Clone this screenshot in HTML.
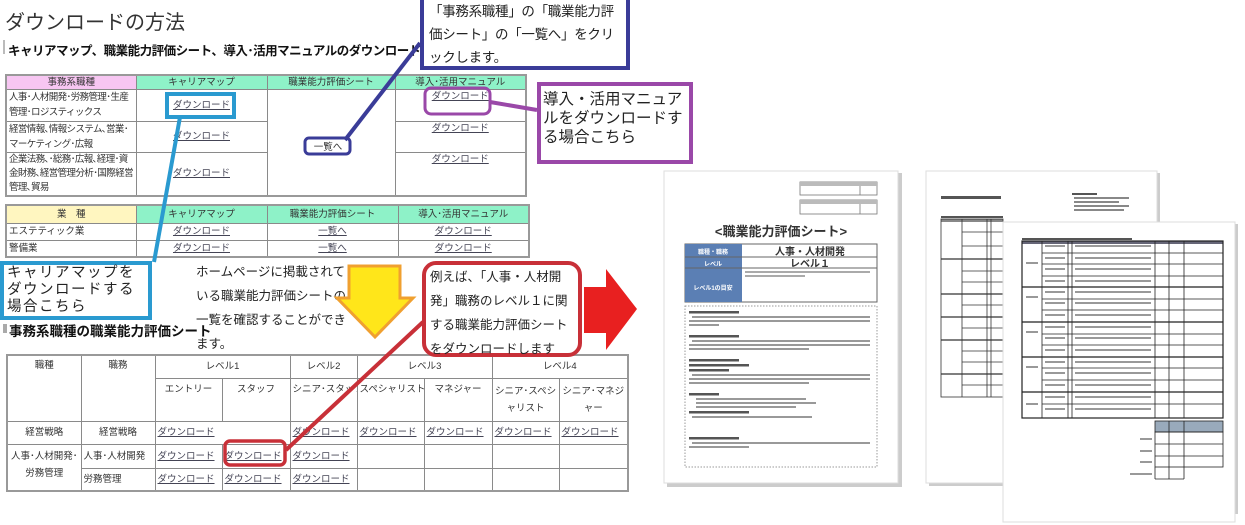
<!DOCTYPE html>
<html><head><meta charset="utf-8">
<style>
*{margin:0;padding:0;box-sizing:border-box}
body{width:1245px;height:525px;background:#fff;position:relative;overflow:hidden;font-family:"Liberation Sans","Noto Sans CJK JP",sans-serif;color:#222}
.a{position:absolute}
table{border-collapse:collapse;table-layout:fixed;position:absolute;font-size:9.5px;color:#333}
td{border:1px solid #8a8a8a;padding:0 2px;line-height:13px;overflow:hidden}
.t1{border:2px solid #999}
.c{text-align:center}
.dl{text-decoration:underline;color:#445;white-space:nowrap}
.top{vertical-align:top}
.nw{white-space:nowrap}
.sq{letter-spacing:-0.6px}
</style></head><body>
<div class="a" style="left:5px;top:6px;font-size:20px;color:#333">ダウンロードの方法</div>
<div class="a" style="left:3px;top:40px;width:2px;height:14px;background:#bbb"></div>
<div class="a" style="left:8px;top:40px;font-size:12.5px;font-weight:bold;color:#111;letter-spacing:-0.5px">キャリアマップ、職業能力評価シート、導入･活用マニュアルのダウンロード</div>

<table class="t1" style="left:5px;top:74px;width:520px">
<colgroup><col style="width:130px"><col style="width:131px"><col style="width:128px"><col style="width:131px"></colgroup>
<tr style="height:14px"><td class="c" style="background:#f7c6f2;line-height:11px">事務系職種</td><td class="c" style="background:#8ef2c8;line-height:11px">キャリアマップ</td><td class="c" style="background:#8ef2c8;line-height:11px">職業能力評価シート</td><td class="c" style="background:#8ef2c8;line-height:11px">導入･活用マニュアル</td></tr>
<tr style="height:32px"><td class="sq" style="line-height:15px">人事･人材開発･労務管理･生産管理･ロジスティックス</td><td class="c"><span class="dl">ダウンロード</span></td><td rowspan="3" class="c"><span style="position:relative;top:5px;left:-3px">一覧へ</span></td><td class="c top"><span class="dl">ダウンロード</span></td></tr>
<tr style="height:31px"><td class="sq" style="line-height:15px">経営情報､情報システム､営業･マーケティング･広報</td><td class="c"><span class="dl">ダウンロード</span></td><td class="c top"><span class="dl">ダウンロード</span></td></tr>
<tr style="height:44px"><td class="sq" style="line-height:14px">企業法務､･総務･広報､経理･資金財務､経営管理分析･国際経営管理､貿易</td><td class="c"><span class="dl">ダウンロード</span></td><td class="c top"><span class="dl">ダウンロード</span></td></tr>
</table>

<table class="t1" style="left:5px;top:204px;width:523px">
<colgroup><col style="width:130px"><col style="width:131px"><col style="width:131px"><col style="width:131px"></colgroup>
<tr style="height:18px"><td class="c" style="background:#fff6c0">業　種</td><td class="c" style="background:#8ef2c8">キャリアマップ</td><td class="c" style="background:#8ef2c8">職業能力評価シート</td><td class="c" style="background:#8ef2c8">導入･活用マニュアル</td></tr>
<tr style="height:17px"><td>エステティック業</td><td class="c"><span class="dl">ダウンロード</span></td><td class="c"><span class="dl">一覧へ</span></td><td class="c"><span class="dl">ダウンロード</span></td></tr>
<tr style="height:17px"><td>警備業</td><td class="c"><span class="dl">ダウンロード</span></td><td class="c"><span class="dl">一覧へ</span></td><td class="c"><span class="dl">ダウンロード</span></td></tr>
</table>

<div class="a" style="left:3px;top:324px;width:4px;height:9px;background:#aaa"></div>
<div class="a" style="left:9px;top:320px;font-size:13.5px;font-weight:bold;color:#111">事務系職種の職業能力評価シート</div>

<table class="t1" style="left:6px;top:354px;width:621px">
<colgroup><col style="width:74px"><col style="width:74px"><col style="width:67px"><col style="width:68px"><col style="width:67px"><col style="width:67px"><col style="width:68px"><col style="width:67px"><col style="width:69px"></colgroup>
<tr style="height:23px"><td rowspan="2" class="c top" style="padding-top:3px">職種</td><td rowspan="2" class="c top" style="padding-top:3px">職務</td><td colspan="2" class="c">レベル1</td><td class="c">レベル2</td><td colspan="2" class="c">レベル3</td><td colspan="2" class="c">レベル4</td></tr>
<tr style="height:43px"><td class="c top nw" style="padding-top:4px">エントリー</td><td class="c top nw" style="padding-top:4px">スタッフ</td><td class="c top nw" style="padding-top:4px">シニア･スタッフ</td><td class="c top nw" style="padding-top:4px">スペシャリスト</td><td class="c top nw" style="padding-top:4px">マネジャー</td><td class="c top" style="padding-top:4px;line-height:17px">シニア･スペシャリスト</td><td class="c top" style="padding-top:4px;line-height:17px">シニア･マネジャー</td></tr>
<tr style="height:23px"><td class="c">経営戦略</td><td class="c">経営戦略</td><td colspan="2"><span class="dl">ダウンロード</span></td><td><span class="dl">ダウンロード</span></td><td><span class="dl">ダウンロード</span></td><td><span class="dl">ダウンロード</span></td><td><span class="dl">ダウンロード</span></td><td><span class="dl">ダウンロード</span></td></tr>
<tr style="height:24px"><td rowspan="2" class="c top" style="padding-top:3px;line-height:17px">人事･人材開発･労務管理</td><td class="nw">人事･人材開発</td><td><span class="dl">ダウンロード</span></td><td><span class="dl">ダウンロード</span></td><td><span class="dl">ダウンロード</span></td><td></td><td></td><td></td><td></td></tr>
<tr style="height:23px"><td>労務管理</td><td><span class="dl">ダウンロード</span></td><td><span class="dl">ダウンロード</span></td><td><span class="dl">ダウンロード</span></td><td></td><td></td><td></td><td></td></tr>
</table>

<div class="a" style="left:420px;top:-4px;width:210px;height:74px;border:4px solid #3a3c98;background:#fff;font-size:13.5px;line-height:23px;padding:0 5px;letter-spacing:-0.3px">「事務系職種」の「職業能力評価シート」の「一覧へ」をクリックします。</div>
<div class="a" style="left:537px;top:82px;width:156px;height:82px;border:4px solid #9a48a8;background:#fff;font-size:15.5px;line-height:19px;padding:4px 2px 0 2px">導入・活用マニュアルをダウンロードする場合こちら</div>
<div class="a" style="left:0px;top:261px;width:152px;height:59px;border:4px solid #2a9ad0;background:#fff;font-size:14.5px;line-height:17px;padding:0 3px;letter-spacing:1.5px">キャリアマップをダウンロードする場合こちら</div>
<div class="a" style="left:196px;top:260px;width:152px;font-size:12.5px;line-height:24px;color:#222">ホームページに掲載されている職業能力評価シートの一覧を確認することができます。</div>
<div class="a" style="left:422px;top:261px;width:160px;height:96px;border:4px solid #c83038;border-radius:14px;background:#fff;font-size:12.5px;line-height:24px;padding:0 4px">例えば、「人事・人材開発」職務のレベル１に関する職業能力評価シートをダウンロードします</div>

<svg class="a" style="left:0;top:0" width="1245" height="525">
<line x1="420" y1="43" x2="345" y2="140" stroke="#3a3c98" stroke-width="4"/>
<rect x="305" y="138" width="45" height="16" rx="4" fill="none" stroke="#3a3c98" stroke-width="3"/>
<rect x="167" y="94" width="67" height="23" fill="none" stroke="#2a9ad0" stroke-width="4"/>
<line x1="180" y1="117" x2="154" y2="262" stroke="#2a9ad0" stroke-width="4"/>
<rect x="425" y="88" width="65" height="26" rx="6" fill="none" stroke="#9a48a8" stroke-width="3"/>
<line x1="490" y1="102" x2="537" y2="110" stroke="#9a48a8" stroke-width="4"/>
<line x1="423" y1="322" x2="286" y2="450" stroke="#c83038" stroke-width="4"/>
<rect x="225" y="441" width="60" height="24" rx="5" fill="none" stroke="#c83038" stroke-width="3.5"/>
<polygon points="349,266 400,266 400,298 413,298 375,337 337,298 349,298" fill="#ffe61a" stroke="#f0a030" stroke-width="3"/>
<polygon points="584,287 606,287 606,269 637,309 606,350 606,333 584,333" fill="#e82020"/>

<rect x="667" y="173" width="235" height="314" fill="#ccc"/>
<rect x="664" y="171" width="234" height="312" fill="#fff" stroke="#ddd"/>
<g fill="none" stroke="#777" stroke-width="0.8">
<rect x="800" y="182" width="77" height="13"/><line x1="860" y1="182" x2="860" y2="195"/>
<rect x="800" y="200" width="77" height="14"/><line x1="860" y1="200" x2="860" y2="214"/>
</g>
<rect x="800" y="182" width="77" height="4" fill="#bbb"/><rect x="800" y="200" width="77" height="4" fill="#bbb"/>
<text x="781" y="236" font-size="13" font-weight="bold" text-anchor="middle" fill="#333" font-family="Liberation Sans,Noto Sans CJK JP,sans-serif">&lt;職業能力評価シート&gt;</text>
<rect x="685" y="244" width="192" height="58" fill="#fff" stroke="#666"/>
<rect x="685" y="244" width="57" height="58" fill="#5b7fb4"/>
<line x1="685" y1="257" x2="877" y2="257" stroke="#666"/><line x1="685" y1="268" x2="877" y2="268" stroke="#666"/>
<g font-family="Liberation Sans,Noto Sans CJK JP,sans-serif" font-weight="bold">
<text x="713" y="254" font-size="6" fill="#fff" text-anchor="middle">職種・職務</text>
<text x="713" y="266" font-size="6" fill="#fff" text-anchor="middle">レベル</text>
<text x="713" y="290" font-size="6" fill="#fff" text-anchor="middle">レベル1の目安</text>
<text x="810" y="255" font-size="10" fill="#333" text-anchor="middle">人事・人材開発</text>
<text x="810" y="267" font-size="10" fill="#333" text-anchor="middle">レベル１</text>
</g>
<rect x="745" y="271" width="125" height="2" fill="#aaa"/><rect x="745" y="275" width="60" height="2" fill="#aaa"/>
<rect x="685" y="306" width="192" height="161" fill="none" stroke="#999" stroke-dasharray="1.5,1.5"/>
<g fill="#999">
<rect x="689" y="311" width="50" height="2.5" fill="#555"/><rect x="692" y="316" width="178" height="2"/><rect x="689" y="320" width="181" height="2"/><rect x="689" y="324" width="30" height="2"/>
<rect x="689" y="335" width="50" height="2.5" fill="#555"/><rect x="692" y="340" width="178" height="2"/><rect x="689" y="344" width="181" height="2"/><rect x="689" y="348" width="120" height="2"/>
<rect x="689" y="359" width="50" height="2.5" fill="#555"/><rect x="689" y="364" width="60" height="2.5" fill="#555"/><rect x="689" y="369" width="40" height="2.5" fill="#555"/>
<rect x="692" y="374" width="178" height="2"/><rect x="689" y="378" width="181" height="2"/><rect x="689" y="382" width="120" height="2"/>
<rect x="689" y="393" width="30" height="2.5" fill="#555"/><rect x="696" y="398" width="110" height="2"/><rect x="696" y="402" width="120" height="2"/><rect x="696" y="406" width="100" height="2"/>
<rect x="689" y="411" width="60" height="2.5" fill="#555"/><rect x="692" y="416" width="120" height="2"/>
<rect x="689" y="437" width="50" height="2.5" fill="#555"/><rect x="692" y="442" width="178" height="2"/><rect x="689" y="446" width="60" height="2"/>
</g>

<rect x="929" y="173" width="231" height="313" fill="#ccc"/>
<rect x="926" y="171" width="231" height="312" fill="#fff" stroke="#ddd"/>
<rect x="941" y="196" width="60" height="3" fill="#555"/>
<rect x="1072" y="193" width="25" height="2" fill="#555"/><rect x="1074" y="197" width="55" height="2" fill="#888"/><rect x="1074" y="201" width="45" height="2" fill="#888"/><rect x="1074" y="205" width="55" height="2" fill="#888"/><rect x="1074" y="209" width="50" height="2" fill="#888"/>
<rect x="941" y="216" width="62" height="2" fill="#555"/>
<rect x="941" y="219" width="62" height="3" fill="#888"/>
<g stroke="#333" stroke-width="0.8" fill="none">
<rect x="941" y="219" width="62" height="178"/>
<line x1="962" y1="219" x2="962" y2="397"/><line x1="987" y1="219" x2="987" y2="397"/><line x1="991" y1="219" x2="991" y2="397"/>
<line x1="941" y1="259" x2="1003" y2="259" stroke-width="1.3"/><line x1="941" y1="294" x2="1003" y2="294" stroke-width="1.3"/><line x1="941" y1="317" x2="1003" y2="317" stroke-width="1.3"/><line x1="941" y1="340" x2="1003" y2="340" stroke-width="1.3"/><line x1="941" y1="374" x2="1003" y2="374" stroke-width="1.3"/>
<line x1="962" y1="232" x2="1003" y2="232"/><line x1="962" y1="246" x2="1003" y2="246"/><line x1="962" y1="271" x2="1003" y2="271"/><line x1="962" y1="282" x2="1003" y2="282"/><line x1="962" y1="305" x2="1003" y2="305"/><line x1="962" y1="328" x2="1003" y2="328"/><line x1="962" y1="351" x2="1003" y2="351"/><line x1="962" y1="362" x2="1003" y2="362"/><line x1="962" y1="385" x2="1003" y2="385"/>
</g>

<rect x="1006" y="224" width="232" height="290" fill="#ccc"/>
<rect x="1003" y="222" width="232" height="300" fill="#fff" stroke="#ddd"/>
<rect x="1022" y="238" width="110" height="2" fill="#555"/>
<rect x="1022" y="241" width="201" height="3" fill="#667"/>
<g stroke="#222" fill="none" stroke-width="0.8">
<rect x="1022" y="241" width="201" height="177" stroke-width="1.2"/>
<line x1="1042" y1="241" x2="1042" y2="418"/><line x1="1068" y1="241" x2="1068" y2="418"/><line x1="1072" y1="241" x2="1072" y2="418"/><line x1="1155" y1="241" x2="1155" y2="418"/><line x1="1169" y1="241" x2="1169" y2="418"/><line x1="1184" y1="241" x2="1184" y2="418"/>
<line x1="1022" y1="287" x2="1223" y2="287" stroke-width="1.3"/><line x1="1022" y1="322" x2="1223" y2="322" stroke-width="1.3"/><line x1="1022" y1="357" x2="1223" y2="357" stroke-width="1.3"/><line x1="1022" y1="392" x2="1223" y2="392" stroke-width="1.3"/>
<line x1="1042" y1="253" x2="1223" y2="253"/><line x1="1042" y1="264" x2="1223" y2="264"/><line x1="1042" y1="276" x2="1223" y2="276"/><line x1="1042" y1="299" x2="1223" y2="299"/><line x1="1042" y1="310" x2="1223" y2="310"/><line x1="1042" y1="334" x2="1223" y2="334"/><line x1="1042" y1="345" x2="1223" y2="345"/><line x1="1042" y1="368" x2="1223" y2="368"/><line x1="1042" y1="380" x2="1223" y2="380"/><line x1="1042" y1="404" x2="1223" y2="404"/>
<rect x="1155" y="421" width="68" height="11" fill="#9ab"/>
<rect x="1155" y="432" width="68" height="35"/><line x1="1155" y1="444" x2="1223" y2="444"/><line x1="1155" y1="456" x2="1223" y2="456"/>
<line x1="1169" y1="421" x2="1169" y2="479"/><line x1="1184" y1="421" x2="1184" y2="479"/>
<line x1="1155" y1="467" x2="1155" y2="479"/><line x1="1155" y1="479" x2="1184" y2="479"/>
</g>
<g fill="#999">
<rect x="1075" y="245" width="76" height="2"/><rect x="1075" y="257" width="76" height="2"/><rect x="1075" y="268" width="76" height="2"/><rect x="1075" y="280" width="76" height="2"/><rect x="1075" y="291" width="76" height="2"/><rect x="1075" y="302" width="76" height="2"/><rect x="1075" y="314" width="76" height="2"/><rect x="1075" y="326" width="76" height="2"/><rect x="1075" y="337" width="76" height="2"/><rect x="1075" y="349" width="76" height="2"/><rect x="1075" y="361" width="76" height="2"/><rect x="1075" y="372" width="76" height="2"/><rect x="1075" y="384" width="76" height="2"/><rect x="1075" y="396" width="76" height="2"/><rect x="1075" y="408" width="76" height="2"/>
<rect x="1045" y="245" width="20" height="2"/><rect x="1045" y="257" width="20" height="2"/><rect x="1045" y="268" width="20" height="2"/><rect x="1045" y="280" width="20" height="2"/><rect x="1045" y="291" width="20" height="2"/><rect x="1045" y="302" width="20" height="2"/><rect x="1045" y="314" width="20" height="2"/><rect x="1045" y="326" width="20" height="2"/><rect x="1045" y="337" width="20" height="2"/><rect x="1045" y="349" width="20" height="2"/><rect x="1045" y="361" width="20" height="2"/><rect x="1045" y="372" width="20" height="2"/><rect x="1045" y="384" width="20" height="2"/><rect x="1045" y="396" width="20" height="2"/><rect x="1045" y="408" width="20" height="2"/>
<rect x="1026" y="262" width="12" height="2"/><rect x="1026" y="296" width="12" height="2"/><rect x="1026" y="331" width="12" height="2"/><rect x="1026" y="366" width="12" height="2"/><rect x="1026" y="403" width="12" height="2"/>
<rect x="1140" y="438" width="12" height="2"/><rect x="1140" y="450" width="12" height="2"/><rect x="1140" y="461" width="12" height="2"/><rect x="1130" y="473" width="22" height="2"/>
</g>
</svg>
</body></html>
